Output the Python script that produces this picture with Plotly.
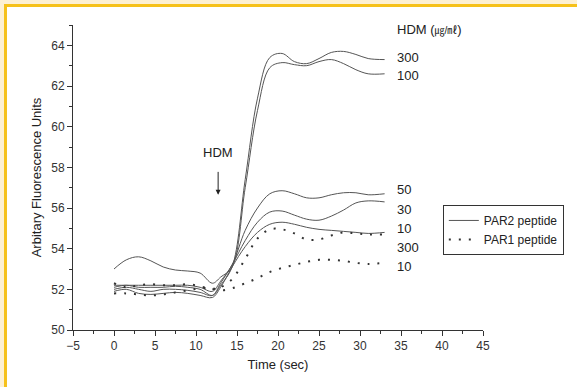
import plotly.graph_objects as go

# time axis (sec)
t = [0, 1.5, 3, 4.5, 6, 7.5, 9, 10.5, 12, 13, 14.4, 16, 17.5, 19, 20.5, 22, 23.5, 25, 26.5, 28, 29.5, 31, 33]

# PAR2 peptide curves (solid), by HDM dose (ug/ml)
par2_300 = [52.1, 52.2, 52.1, 52.1, 52.1, 52.15, 52.1, 52.0, 51.7, 52.2, 53.1, 57.4, 61.4, 63.4, 63.6, 63.2, 63.1, 63.35, 63.65, 63.7, 63.55, 63.35, 63.3]
par2_100 = [53.0, 53.45, 53.6, 53.4, 53.1, 52.95, 52.9, 52.8, 52.3, 52.6, 53.1, 57.0, 60.8, 62.9, 63.15, 63.05, 63.0, 63.2, 63.3, 63.1, 62.8, 62.6, 62.6]
par2_50 = [52.2, 52.2, 52.2, 52.2, 52.2, 52.2, 52.2, 52.1, 51.9, 52.4, 53.2, 54.9, 56.0, 56.7, 56.85, 56.7, 56.5, 56.5, 56.65, 56.75, 56.75, 56.65, 56.7]
par2_30 = [52.0, 52.1, 52.0, 51.9, 52.0, 52.0, 51.95, 51.85, 51.7, 52.3, 53.2, 54.4, 55.3, 55.8, 55.85, 55.65, 55.45, 55.4, 55.6, 55.9, 56.25, 56.35, 56.3]
par2_10 = [51.9, 52.0, 51.8, 51.75, 51.8, 51.85, 51.8, 51.7, 51.6, 52.1, 53.1, 54.1, 54.8, 55.2, 55.3, 55.2, 55.05, 54.95, 54.9, 54.85, 54.8, 54.75, 54.8]

# PAR1 peptide curves (dotted)
par1_300 = [52.3, 52.1, 52.2, 52.25, 52.2, 52.2, 52.25, 52.15, 52.0, 52.1, 52.5, 53.5, 54.5, 54.95, 54.95, 54.75, 54.45, 54.45, 54.65, 54.8, 54.75, 54.7, 54.7]
par1_10 = [51.8, 51.8, 51.75, 51.7, 51.75, 51.85, 51.95, 52.05, 52.05, 51.95, 52.05, 52.3, 52.55, 52.85, 53.05, 53.2, 53.35, 53.45, 53.45, 53.4, 53.3, 53.25, 53.3]

# end-of-curve dose labels
dose_labels = ["300", "100", "50", "30", "10", "300", "10"]
dose_label_y = [63.4, 62.5, 56.9, 55.95, 55.0, 54.05, 53.1]

LINE = "#555555"
font_family = "Liberation Sans, Arial, sans-serif"

fig = go.Figure()

solid = [par2_300, par2_100, par2_50, par2_30, par2_10]
for i, ys in enumerate(solid):
    fig.add_trace(go.Scatter(
        x=t, y=ys, mode="lines", line=dict(color=LINE, width=1, shape="spline"),
        name="PAR2 peptide", legendgroup="par2", showlegend=(i == 0)))

dotted = [par1_300, par1_10]
for i, ys in enumerate(dotted):
    fig.add_trace(go.Scatter(
        x=t, y=ys, mode="lines", line=dict(color="#333333", width=2, shape="spline", dash="2px,8px"),
        name="PAR1 peptide", legendgroup="par1", showlegend=(i == 0)))

annotations = []
for lab, yy in zip(dose_labels, dose_label_y):
    annotations.append(dict(x=34.3, y=yy, xref="x", yref="y", text=lab, showarrow=False,
                            xanchor="left", yanchor="middle", font=dict(size=13, color="#222222")))
annotations.append(dict(x=34.3, y=64.8, xref="x", yref="y",
                        text="HDM (<span style='font-size:10px'>㎍/㎖</span>)", showarrow=False,
                        xanchor="left", yanchor="middle",
                        font=dict(size=13, color="#222222", family="Liberation Sans, Noto Sans CJK KR, sans-serif")))
annotations.append(dict(x=12.7, y=58.75, xref="x", yref="y", text="HDM", showarrow=False,
                        font=dict(size=13, color="#222222")))
annotations.append(dict(x=12.7, y=56.65, ax=12.7, ay=57.85, xref="x", yref="y", axref="x", ayref="y",
                        text="", showarrow=True, arrowhead=2, arrowsize=1, arrowwidth=1, arrowcolor="#222222"))

shapes = [
    dict(type="rect", xref="paper", yref="paper", x0=-0.2, x1=1.3, y0=1.0689, y1=1.1,
         fillcolor="#fdf0d2", line_width=0, layer="below"),
    dict(type="rect", xref="paper", yref="paper", x0=-0.2, x1=-0.1683, y0=-0.2, y1=1.1,
         fillcolor="#fdf0d2", line_width=0, layer="below"),
    dict(type="rect", xref="paper", yref="paper", x0=-0.1683, x1=1.3, y0=1.059, y1=1.0689,
         fillcolor="#f6c11a", line_width=0, layer="below"),
    dict(type="rect", xref="paper", yref="paper", x0=-0.1683, x1=-0.161, y0=-0.2, y1=1.0689,
         fillcolor="#f6c11a", line_width=0, layer="below"),
]

fig.update_layout(
    width=577, height=387,
    margin=dict(l=73, r=94, t=25, b=57),
    paper_bgcolor="white", plot_bgcolor="white",
    font=dict(family=font_family, size=12, color="#333333"),
    showlegend=True,
    legend=dict(x=0.902, y=0.41, xanchor="left", yanchor="top",
                bordercolor="#333333", borderwidth=1, bgcolor="white",
                font=dict(size=12, color="#222222"), tracegroupgap=0, itemwidth=30),
    annotations=annotations,
    shapes=shapes,
)

fig.update_xaxes(range=[-5, 45], tickmode="linear", tick0=-5, dtick=5,
                 showline=True, linecolor="#333333", linewidth=1,
                 ticks="outside", ticklen=5, tickcolor="#333333",
                 minor=dict(dtick=2.5, tick0=-5, ticks="outside", ticklen=3, tickcolor="#333333"),
                 showgrid=False, zeroline=False,
                 title=dict(text="Time (sec)", font=dict(size=13, color="#222222"), standoff=7))
fig.update_yaxes(range=[50, 65], tickmode="array", tickvals=[50, 52, 54, 56, 58, 60, 62, 64],
                 showline=True, linecolor="#333333", linewidth=1,
                 ticks="outside", ticklen=5, tickcolor="#333333",
                 minor=dict(dtick=1, tick0=50, ticks="outside", ticklen=3, tickcolor="#333333"),
                 showgrid=False, zeroline=False,
                 title=dict(text="Arbitary Fluorescence Units", font=dict(size=13, color="#222222"), standoff=6))

fig.write_html("out.html", config={"displayModeBar": False},
               post_script="document.body.style.margin='0';document.body.style.overflow='hidden';")
